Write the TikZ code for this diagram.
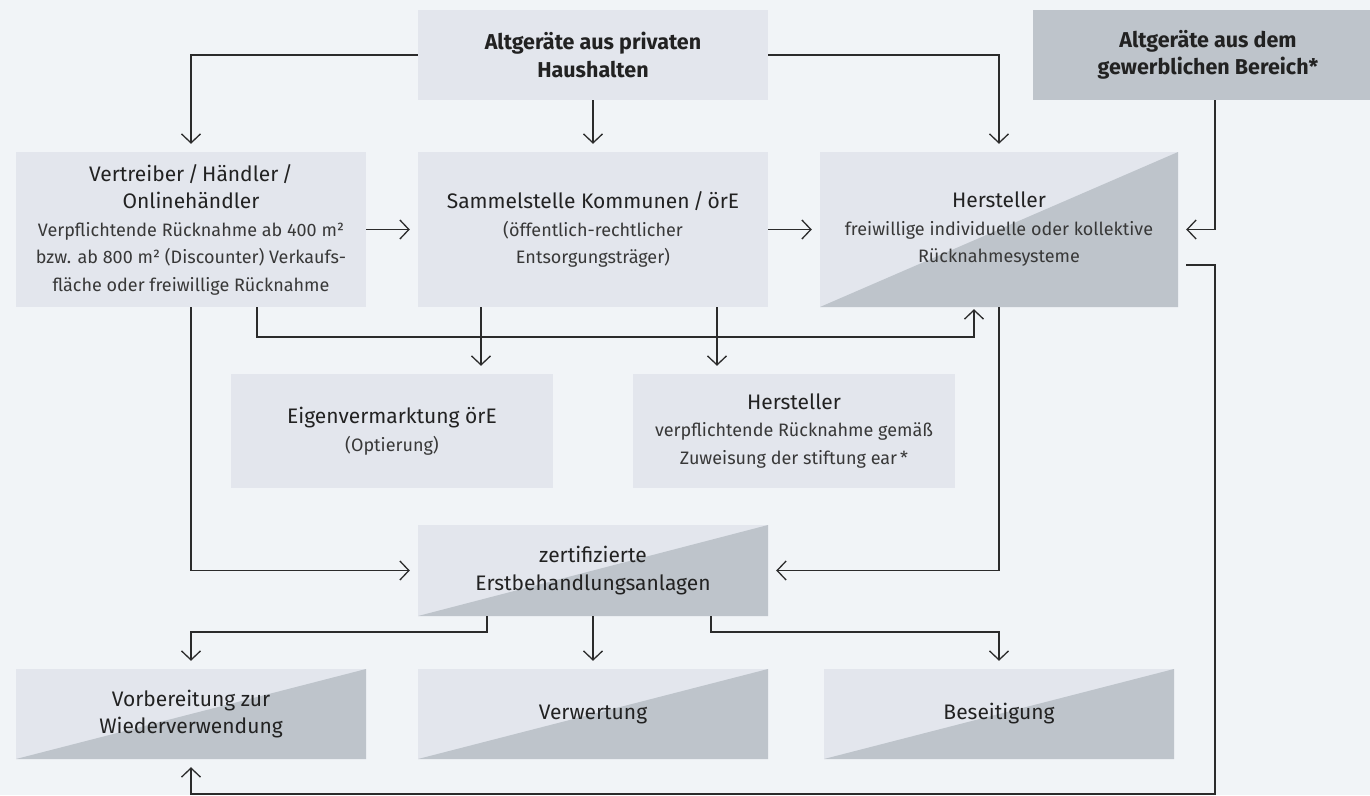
\documentclass[tikz,border=0pt]{standalone}
\usepackage{fontspec}
\setmainfont{Fira Sans}
\usetikzlibrary{arrows.meta,calc}
\definecolor{bgc}{HTML}{F1F4F7}
\definecolor{lightc}{HTML}{E3E6ED}
\definecolor{darkc}{HTML}{BEC4CB}
\definecolor{linec}{HTML}{2B2B2B}
\definecolor{textc}{HTML}{222222}
\newcommand{\subt}[1]{{\fontsize{18}{27.5}\selectfont\color{textc!90!white}#1}}
\tikzset{
  x=1pt, y=-1pt,
  box/.style={fill=lightc, inner sep=0pt, align=center, text=textc,
    font=\fontsize{21}{27.5}\selectfont},
  darkbox/.style={box, fill=darkc},
  diagbox/.style={box, path picture={
    \fill[darkc] (path picture bounding box.south west) --
      (path picture bounding box.north east) --
      (path picture bounding box.south east) -- cycle;}},
  arr/.style={draw=linec, line width=1.3pt,
    -{Straight Barb[length=9pt,width=19pt,line width=1.3pt]}, shorten >=8pt},
  bfont/.style={font=\fontsize{21.5}{27.5}\selectfont\bfseries}
}
\begin{document}
\begin{tikzpicture}
\useasboundingbox (0,0) rectangle (1370,795);
\fill[bgc] (0,0) rectangle (1370,795);
\clip (0,0) rectangle (1370,795);

% nodes
\node[box, bfont, minimum width=350pt, minimum height=90pt] (priv) at (593,55)
  {Altgeräte aus privaten\\Haushalten};
\node[darkbox, minimum width=350pt, minimum height=90pt] (gew) at (1208,55)
  {};
\node[bfont, text=textc, align=center] (gewt) at (1208,55)
  {Altgeräte aus dem\\gewerblichen Bereich*};
\node[box, minimum width=350pt, minimum height=155pt] (vert) at (191,229.5)
  {Vertreiber\,/\,Händler\,/\\Onlinehändler\\\subt{Verpflichtende Rücknahme ab 400 m²}\\\subt{bzw. ab 800 m² (Discounter) Verkaufs-}\\\subt{fläche oder freiwillige Rücknahme}};
\node[box, minimum width=350pt, minimum height=155pt] (sam) at (593,229.5)
  {Sammelstelle Kommunen\,/\,örE\\\subt{(öffentlich-rechtlicher}\\\subt{Entsorgungsträger)}};
\node[diagbox, minimum width=358pt, minimum height=155pt] (her) at (999,229.5)
  {Hersteller\\\subt{freiwillige individuelle oder kollektive}\\\subt{Rücknahmesysteme}};
\node[box, minimum width=322pt, minimum height=114pt] (eig) at (392,431)
  {Eigenvermarktung örE\\\subt{(Optierung)}};
\node[box, minimum width=322pt, minimum height=114pt] (verp) at (794,431)
  {Hersteller\\\subt{verpflichtende Rücknahme gemäß}\\\subt{Zuweisung der stiftung ear\,*}};
\node[diagbox, minimum width=350pt, minimum height=91pt] (erst) at (593,570.5)
  {zertifizierte\\Erstbehandlungsanlagen};
\node[diagbox, minimum width=350pt, minimum height=90pt] (vor) at (191,714)
  {Vorbereitung zur\\Wiederverwendung};
\node[diagbox, minimum width=350pt, minimum height=90pt] (verw) at (593,714)
  {Verwertung};
\node[diagbox, minimum width=350pt, minimum height=90pt] (bes) at (999,714)
  {Beseitigung};

% helper coordinates
\coordinate (gx) at (1215,0);
\coordinate (bot) at (0,794);
\coordinate (hl) at (0,337);
\coordinate (ey) at (0,632);
\coordinate (hout) at ([xshift=8pt,yshift=-35.5pt]her.east);

% connectors
\draw[arr] (priv.west) -| (vert.north);
\draw[arr] (priv.south) -- (sam.north);
\draw[arr] (priv.east) -| (her.north);
\draw[arr] (gew.south -| gx) |- (her.east);
\draw[arr] (hout) -- (hout -| gx) -- (gx |- bot) -- (vor.south |- bot) -- (vor.south);
\draw[arr] (vert.east) -- (sam.west);
\draw[arr] (sam.east) -- (her.west);
\draw[arr] (vert.south) |- (erst.west);
\draw[arr, shorten >=2pt] ([xshift=66pt]vert.south) |- ([xshift=-25pt]her.south |- hl) -- ([xshift=-25pt]her.south);
\draw[arr] ([xshift=-112pt]sam.south) -- ([xshift=-112pt]sam.south |- eig.north);
\draw[arr] ([xshift=124pt]sam.south) -- ([xshift=124pt]sam.south |- verp.north);
\draw[arr] (her.south) |- (erst.east);
\draw[arr] ([xshift=-106pt]erst.south) -- ([xshift=-106pt]erst.south |- ey) -| (vor.north);
\draw[arr] (erst.south) -- (verw.north);
\draw[arr] ([xshift=118pt]erst.south) -- ([xshift=118pt]erst.south |- ey) -| (bes.north);
\end{tikzpicture}
\end{document}
